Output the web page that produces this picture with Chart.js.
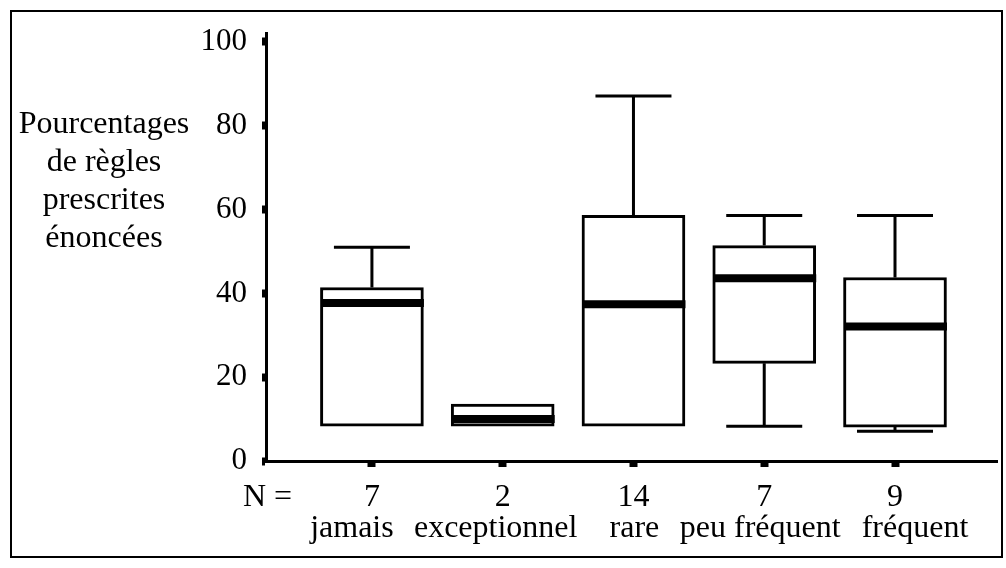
<!DOCTYPE html>
<html lang="fr">
<head>
<meta charset="UTF-8">
<title>Pourcentages de règles prescrites énoncées</title>
<script src="https://cdn.jsdelivr.net/npm/chart.js"></script>
<style>
  body { margin: 0; background: #fff; }
  #wrap { position: relative; width: 1006px; height: 568px; font-family: "Liberation Serif", "Times New Roman", serif; color: #000; }
  #frame { position: absolute; left: 10px; top: 10px; width: 989px; height: 544px; border: 2px solid #000; }
  #chart-box { position: absolute; left: 0; top: 0; width: 1006px; height: 568px; }
  #ylabel { position: absolute; left: 4px; top: 103px; width: 200px; text-align: center; font-size: 32px; line-height: 38px; }
  #nlabel { position: absolute; left: 243px; top: 479px; font-size: 32px; line-height: 32px; }
</style>
</head>
<body>
<div id="wrap">
  <div id="frame"></div>
  <div id="chart-box"><canvas id="box-chart"></canvas></div>
  <div id="ylabel">Pourcentages<br>de règles<br>prescrites<br>énoncées</div>
  <div id="nlabel">N =</div>
</div>

<script>
  // values
  var categories = ['jamais', 'exceptionnel', 'rare', 'peu fréquent', 'fréquent'];
  var counts = ['7', '2', '14', '7', '9'];
  var mins = [8.3, 8.3, 8.3, 8.3, 7.1];
  var q1s = [8.3, 8.3, 8.3, 23.3, 8.1];
  var medians = [37.7, 10, 37.4, 43.6, 32.1];
  var q3s = [41.4, 13.6, 58.6, 51.4, 43.8];
  var maxs = [51, 13.6, 87.1, 58.6, 58.6];
  var yTicks = [0, 20, 40, 60, 80, 100];

  // the category names are not quite centred under their ticks in the original
  var nameShift = [-20, -7, 1, -4, 20];

  var serif = '"Liberation Serif", "Times New Roman", serif';

  // medians, whiskers and category names, drawn with the chart's scales
  var boxExtras = {
    id: 'boxExtras',
    afterDatasetsDraw: function(chart) {
      var ctx = chart.ctx;
      var x = chart.scales.x, y = chart.scales.y;
      ctx.save();
      ctx.strokeStyle = '#000';
      ctx.lineCap = 'butt';
      categories.forEach(function(c, i) {
        var px = x.getPixelForValue(i + 1);
        var cap = 38;

        ctx.lineWidth = 3;
        // upper whisker
        if (maxs[i] > q3s[i]) {
          ctx.beginPath();
          ctx.moveTo(px, y.getPixelForValue(q3s[i]));
          ctx.lineTo(px, y.getPixelForValue(maxs[i]));
          ctx.moveTo(px - cap, y.getPixelForValue(maxs[i]));
          ctx.lineTo(px + cap, y.getPixelForValue(maxs[i]));
          ctx.stroke();
        }
        // lower whisker
        if (mins[i] < q1s[i]) {
          ctx.beginPath();
          ctx.moveTo(px, y.getPixelForValue(q1s[i]));
          ctx.lineTo(px, y.getPixelForValue(mins[i]));
          ctx.moveTo(px - cap, y.getPixelForValue(mins[i]));
          ctx.lineTo(px + cap, y.getPixelForValue(mins[i]));
          ctx.stroke();
        }
        // median
        ctx.lineWidth = 8;
        ctx.beginPath();
        ctx.moveTo(px - 50, y.getPixelForValue(medians[i]));
        ctx.lineTo(px + 52, y.getPixelForValue(medians[i]));
        ctx.stroke();
      });

      // names under the counts
      ctx.fillStyle = '#000';
      ctx.font = '32px ' + serif;
      ctx.textAlign = 'center';
      ctx.textBaseline = 'alphabetic';
      categories.forEach(function(c, i) {
        ctx.fillText(c, x.getPixelForValue(i + 1) + nameShift[i], y.bottom + 76);
      });
      ctx.restore();
    }
  };

  var boxData = categories.map(function(c, i) {
    return { x: i + 1, y: [q1s[i], q3s[i]] };
  });

  var ctx = document.getElementById('box-chart').getContext('2d');
  var boxChart = new Chart(ctx, {
    type: 'bar',
    data: {
      datasets: [{
        data: boxData,
        backgroundColor: '#fff',
        borderColor: '#000',
        borderWidth: 3,
        borderSkipped: false,
        barThickness: 103
      }]
    },
    options: {
      responsive: true,
      maintainAspectRatio: false,
      animation: false,
      layout: { padding: { top: 33, right: 9, left: 0, bottom: 0 } },
      plugins: {
        legend: { display: false },
        tooltip: { enabled: false }
      },
      scales: {
        x: {
          type: 'linear',
          min: 0.19,
          max: 5.78,
          offset: false,
          afterBuildTicks: function(scale) {
            scale.ticks = categories.map(function(c, i) { return { value: i + 1 }; });
          },
          afterFit: function(scale) { scale.height = 107; },
          grid: { offset: false, drawOnChartArea: false, drawTicks: true, tickLength: 6, tickWidth: 8, tickColor: '#000' },
          border: { display: true, color: '#000', width: 3 },
          ticks: {
            color: '#000',
            padding: 15,
            maxRotation: 0,
            autoSkip: false,
            font: { family: serif, size: 32, lineHeight: 1 },
            callback: function(value, index) { return counts[index]; }
          }
        },
        y: {
          min: 0,
          max: 102,
          afterBuildTicks: function(scale) {
            scale.ticks = yTicks.map(function(v) { return { value: v }; });
          },
          afterFit: function(scale) { scale.width = 266; },
          grid: { drawOnChartArea: false, drawTicks: true, tickLength: 4, tickWidth: 8, tickColor: '#000' },
          border: { display: true, color: '#000', width: 3 },
          ticks: {
            color: '#000',
            padding: 15,
            font: { family: serif, size: 31 }
          }
        }
      }
    },
    plugins: [boxExtras]
  });
</script>
</body>
</html>
